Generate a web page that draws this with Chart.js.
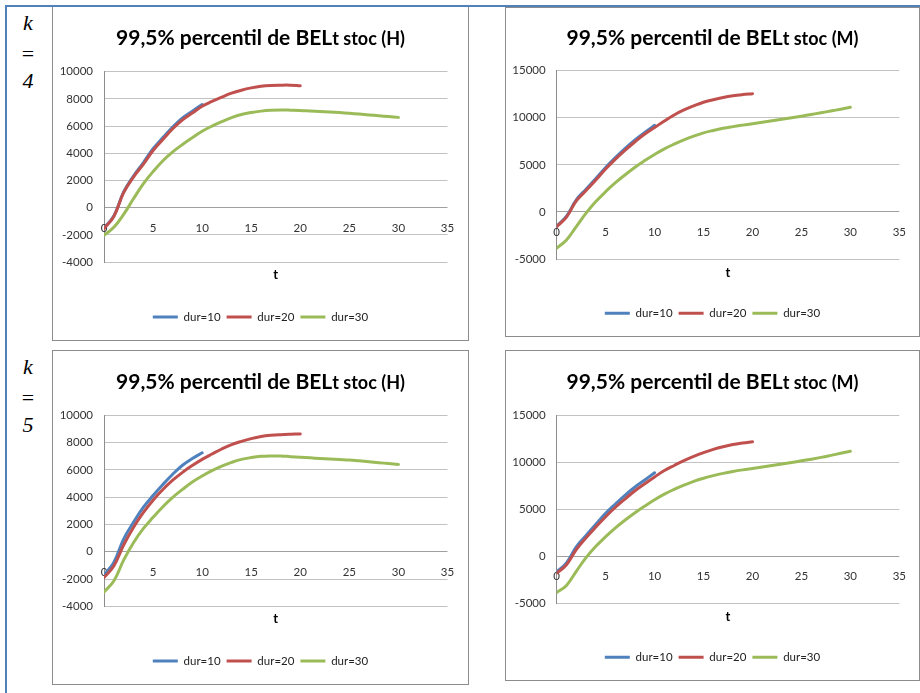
<!DOCTYPE html>
<html>
<head>
<meta charset="utf-8">
<script src="https://cdn.jsdelivr.net/npm/chart.js@4.4.1/dist/chart.umd.min.js"></script>
<style>
  html, body { margin: 0; padding: 0; background: #fff; }
  body { position: relative; width: 920px; height: 693px; overflow: hidden; font-family: Lato, "Open Sans", sans-serif; }
  .rule { position: absolute; background: #4f81bd; z-index: 5; }
  .kcell { position: absolute; left: 7px; width: 42px; text-align: center;
           font-family: "Liberation Serif", "Times New Roman", serif; font-size: 22px; line-height: 29px; color: #000; }
  .kcell i { font-style: italic; }
  .kcell .eq { position: relative; top: 2px; }
  .frame { position: absolute; border: 1px solid #8c8c8c; box-sizing: border-box; background: #fff; }
  .frame canvas { position: absolute; left: 0; top: 0; }
</style>
</head>
<body>
<div class="rule" style="left:5px;top:5px;width:2px;height:688px"></div>
<div class="rule" style="left:5px;top:5px;width:915px;height:2px"></div>

<div class="kcell" style="top:8px"><i>k</i><br><span class="eq">=</span><br><i>4</i></div>
<div class="kcell" style="top:352px"><i>k</i><br><span class="eq">=</span><br><i>5</i></div>

<div class="frame" style="left:52px;top:6px;width:417px;height:335px"><canvas id="cH4" width="415" height="333"></canvas></div>
<div class="frame" style="left:505px;top:7px;width:415px;height:330px"><canvas id="cM4" width="413" height="328"></canvas></div>
<div class="frame" style="left:52px;top:350px;width:417px;height:335px"><canvas id="cH5" width="415" height="333"></canvas></div>
<div class="frame" style="left:505px;top:350px;width:415px;height:331px"><canvas id="cM5" width="413" height="329"></canvas></div>

<script>
// Series names and axis ticks
const seriesNames = ['dur=10', 'dur=20', 'dur=30'];
const xTicks = [0, 5, 10, 15, 20, 25, 30, 35];
const yTicksH = [-4000, -2000, 0, 2000, 4000, 6000, 8000, 10000];
const yTicksM = [-5000, 0, 5000, 10000, 15000];

// 99.5% percentile of BEL_t stoc, one value per year t = 0, 1, 2, ...
// k = 4, (H)
const h4_dur10 = [-1500, -620, 1150, 2320, 3300, 4330, 5150, 5930, 6600, 7100, 7590];
const h4_dur20 = [-1550, -650, 1100, 2250, 3180, 4200, 5020, 5800, 6460, 6960, 7460, 7810, 8130, 8420, 8640, 8810, 8930, 8990, 9010, 9010, 8970];
const h4_dur30 = [-2030, -1450, -500, 650, 1750, 2650, 3450, 4100, 4650, 5150, 5620, 6000, 6330, 6620, 6850, 7000, 7100, 7160, 7180, 7170, 7150, 7110, 7070, 7030, 6990, 6940, 6880, 6820, 6760, 6700, 6640];
// k = 4, (M)
const m4_dur10 = [-1500, -450, 1280, 2420, 3550, 4720, 5770, 6750, 7650, 8450, 9200];
const m4_dur20 = [-1560, -550, 1170, 2270, 3380, 4550, 5600, 6560, 7450, 8270, 8960, 9660, 10300, 10830, 11260, 11650, 11920, 12150, 12330, 12460, 12560];
const m4_dur30 = [-3850, -2980, -1560, -120, 1100, 2150, 3100, 3950, 4750, 5450, 6100, 6700, 7200, 7650, 8050, 8400, 8650, 8880, 9060, 9220, 9370, 9520, 9680, 9840, 10000, 10170, 10350, 10530, 10720, 10910, 11110];
// k = 5, (H)
const h5_dur10 = [-1700, -780, 930, 2150, 3250, 4120, 4930, 5680, 6340, 6830, 7250];
const h5_dur20 = [-1900, -1050, 490, 1780, 2860, 3780, 4560, 5240, 5820, 6320, 6770, 7160, 7530, 7850, 8090, 8290, 8440, 8530, 8580, 8610, 8630];
const h5_dur30 = [-2950, -2150, -620, 660, 1690, 2520, 3300, 3990, 4570, 5110, 5550, 5940, 6280, 6550, 6770, 6900, 6990, 7020, 7020, 6970, 6920, 6880, 6840, 6800, 6760, 6720, 6660, 6600, 6530, 6460, 6400];
// k = 5, (M)
const m5_dur10 = [-1650, -700, 1000, 2200, 3400, 4550, 5550, 6500, 7350, 8100, 8870];
const m5_dur20 = [-1800, -900, 700, 1950, 3100, 4200, 5200, 6100, 6950, 7700, 8420, 9100, 9640, 10150, 10600, 11000, 11350, 11630, 11860, 12020, 12150];
const m5_dur30 = [-3850, -3100, -1600, -150, 1050, 2080, 3020, 3850, 4620, 5330, 6000, 6600, 7100, 7550, 7950, 8280, 8560, 8800, 9000, 9170, 9320, 9470, 9630, 9790, 9960, 10130, 10310, 10500, 10710, 10930, 11150];

const COLORS = ['#4f81bd', '#c0504d', '#9bbb59'];
const FONT = 'Lato, "Open Sans", sans-serif';
const TICK_SIZE = 11.5;

// Title with a smaller "t stoc (...)" run after "BEL"
const splitTitle = {
  id: 'splitTitle',
  afterDraw(chart, args, opts) {
    const ctx = chart.ctx;
    ctx.save();
    const big = 'bold ' + opts.bigSize + 'px ' + FONT;
    const small = 'bold ' + opts.smallSize + 'px ' + FONT;
    ctx.font = big;
    const w1 = ctx.measureText(opts.main).width;
    ctx.font = small;
    const w2 = ctx.measureText(opts.tail).width;
    const x = chart.width / 2 - (w1 + w2) / 2;
    const base = opts.y + opts.bigSize * 0.36;
    ctx.fillStyle = '#000';
    ctx.textAlign = 'left';
    ctx.textBaseline = 'alphabetic';
    ctx.font = big;
    ctx.fillText(opts.main, x, base);
    ctx.font = small;
    ctx.fillText(opts.tail, x + w1, base);
    ctx.restore();
  }
};

// Horizontal-axis labels sit next to the y = 0 line
const xLabelsAtZero = {
  id: 'xLabelsAtZero',
  beforeDatasetsDraw(chart, args, opts) {
    const ctx = chart.ctx;
    const xs = chart.scales.x, ys = chart.scales.y;
    const y = ys.getPixelForValue(0) + opts.offset;
    ctx.save();
    ctx.font = TICK_SIZE + 'px ' + FONT;
    ctx.fillStyle = '#333';
    ctx.textAlign = 'center';
    ctx.textBaseline = 'middle';
    xs.ticks.forEach(t => ctx.fillText(String(t.value), xs.getPixelForValue(t.value), y));
    ctx.restore();
  }
};

function buildChart(id, tail, series, yTicks, f) {
  const legendFont = 11.5, legendPad = 6;
  const padBottom = f.H - f.legendY - (10 + legendFont / 2);
  const legendTop = f.H - padBottom - (legendFont + legendPad + 10);
  const xAxisH = legendTop - f.plotBottom;
  const tSize = 13, tLH = tSize * 1.2;
  const tPadBottom = legendTop - f.tY - tLH / 2;

  const datasets = series.map((vals, i) => ({
    label: seriesNames[i],
    data: vals.map((v, t) => ({ x: t, y: v })),
    borderColor: COLORS[i],
    backgroundColor: COLORS[i],
    borderWidth: 3,
    pointRadius: 0,
    tension: 0.4,
    borderCapStyle: 'round',
    borderJoinStyle: 'round',
    order: 3 - i
  }));

  return new Chart(document.getElementById(id), {
    type: 'line',
    data: { datasets },
    plugins: [splitTitle, xLabelsAtZero],
    options: {
      responsive: false,
      animation: false,
      events: [],
      layout: { padding: { top: f.plotTop, right: 0, bottom: padBottom, left: 0 } },
      scales: {
        x: {
          type: 'linear',
          min: xTicks[0],
          max: xTicks[xTicks.length - 1],
          afterBuildTicks: s => { s.ticks = xTicks.map(v => ({ value: v })); },
          afterFit: s => { s.height = xAxisH; },
          ticks: { display: false },
          grid: { display: false, drawTicks: false },
          border: { display: false },
          title: { display: true, text: 't', color: '#000',
                   font: { family: FONT, size: tSize, weight: 'bold' },
                   padding: { top: 0, bottom: tPadBottom } }
        },
        y: {
          type: 'linear',
          position: 'left',
          min: yTicks[0],
          max: yTicks[yTicks.length - 1],
          afterBuildTicks: s => { s.ticks = yTicks.map(v => ({ value: v })); },
          afterFit: s => { s.width = f.plotLeft; },
          ticks: { color: '#333', padding: 11, font: { family: FONT, size: TICK_SIZE },
                   callback: v => String(v) },
          grid: { drawTicks: false, lineWidth: 1,
                  color: c => (c.tick && c.tick.value === 0) ? '#a0a0a0' : '#c2c2c2' },
          border: { display: true, color: '#8c8c8c', width: 1 }
        },
        // empty right-hand margin of the plot area
        yGap: {
          type: 'linear',
          position: 'right',
          afterFit: s => { s.width = f.W - f.plotRight; },
          ticks: { display: false },
          grid: { display: false, drawTicks: false },
          border: { display: false }
        }
      },
      plugins: {
        splitTitle: { main: '99,5% percentil de BEL', tail: tail, bigSize: 21, smallSize: 18, y: f.titleY },
        xLabelsAtZero: { offset: 20.5 },
        tooltip: { enabled: false },
        title: { display: false },
        legend: {
          display: true,
          position: 'bottom',
          labels: {
            color: '#222',
            font: { family: FONT, size: legendFont },
            boxWidth: 25,
            boxHeight: 3,
            padding: legendPad,
            generateLabels: chart => chart.data.datasets.map((d, i) => ({
              text: d.label, fillStyle: d.borderColor, strokeStyle: d.borderColor,
              lineWidth: 0, hidden: false, datasetIndex: i, fontColor: '#222'
            }))
          }
        }
      }
    }
  });
}

buildChart('cH4', 't stoc (H)', [h4_dur10, h4_dur20, h4_dur30], yTicksH,
  { W: 415, H: 333, plotLeft: 51, plotRight: 394.5, plotTop: 64.7, plotBottom: 255, titleY: 30, tY: 268, legendY: 310 });
buildChart('cM4', 't stoc (M)', [m4_dur10, m4_dur20, m4_dur30], yTicksM,
  { W: 413, H: 328, plotLeft: 50.7, plotRight: 393.3, plotTop: 62.7, plotBottom: 251, titleY: 29.7, tY: 264.7, legendY: 305.3 });
buildChart('cH5', 't stoc (H)', [h5_dur10, h5_dur20, h5_dur30], yTicksH,
  { W: 415, H: 333, plotLeft: 51, plotRight: 394.5, plotTop: 64.3, plotBottom: 255.3, titleY: 30.7, tY: 268, legendY: 310 });
buildChart('cM5', 't stoc (M)', [m5_dur10, m5_dur20, m5_dur30], yTicksM,
  { W: 413, H: 329, plotLeft: 50.7, plotRight: 393.3, plotTop: 64, plotBottom: 252.3, titleY: 30, tY: 265.7, legendY: 306.3 });
</script>
</body>
</html>
